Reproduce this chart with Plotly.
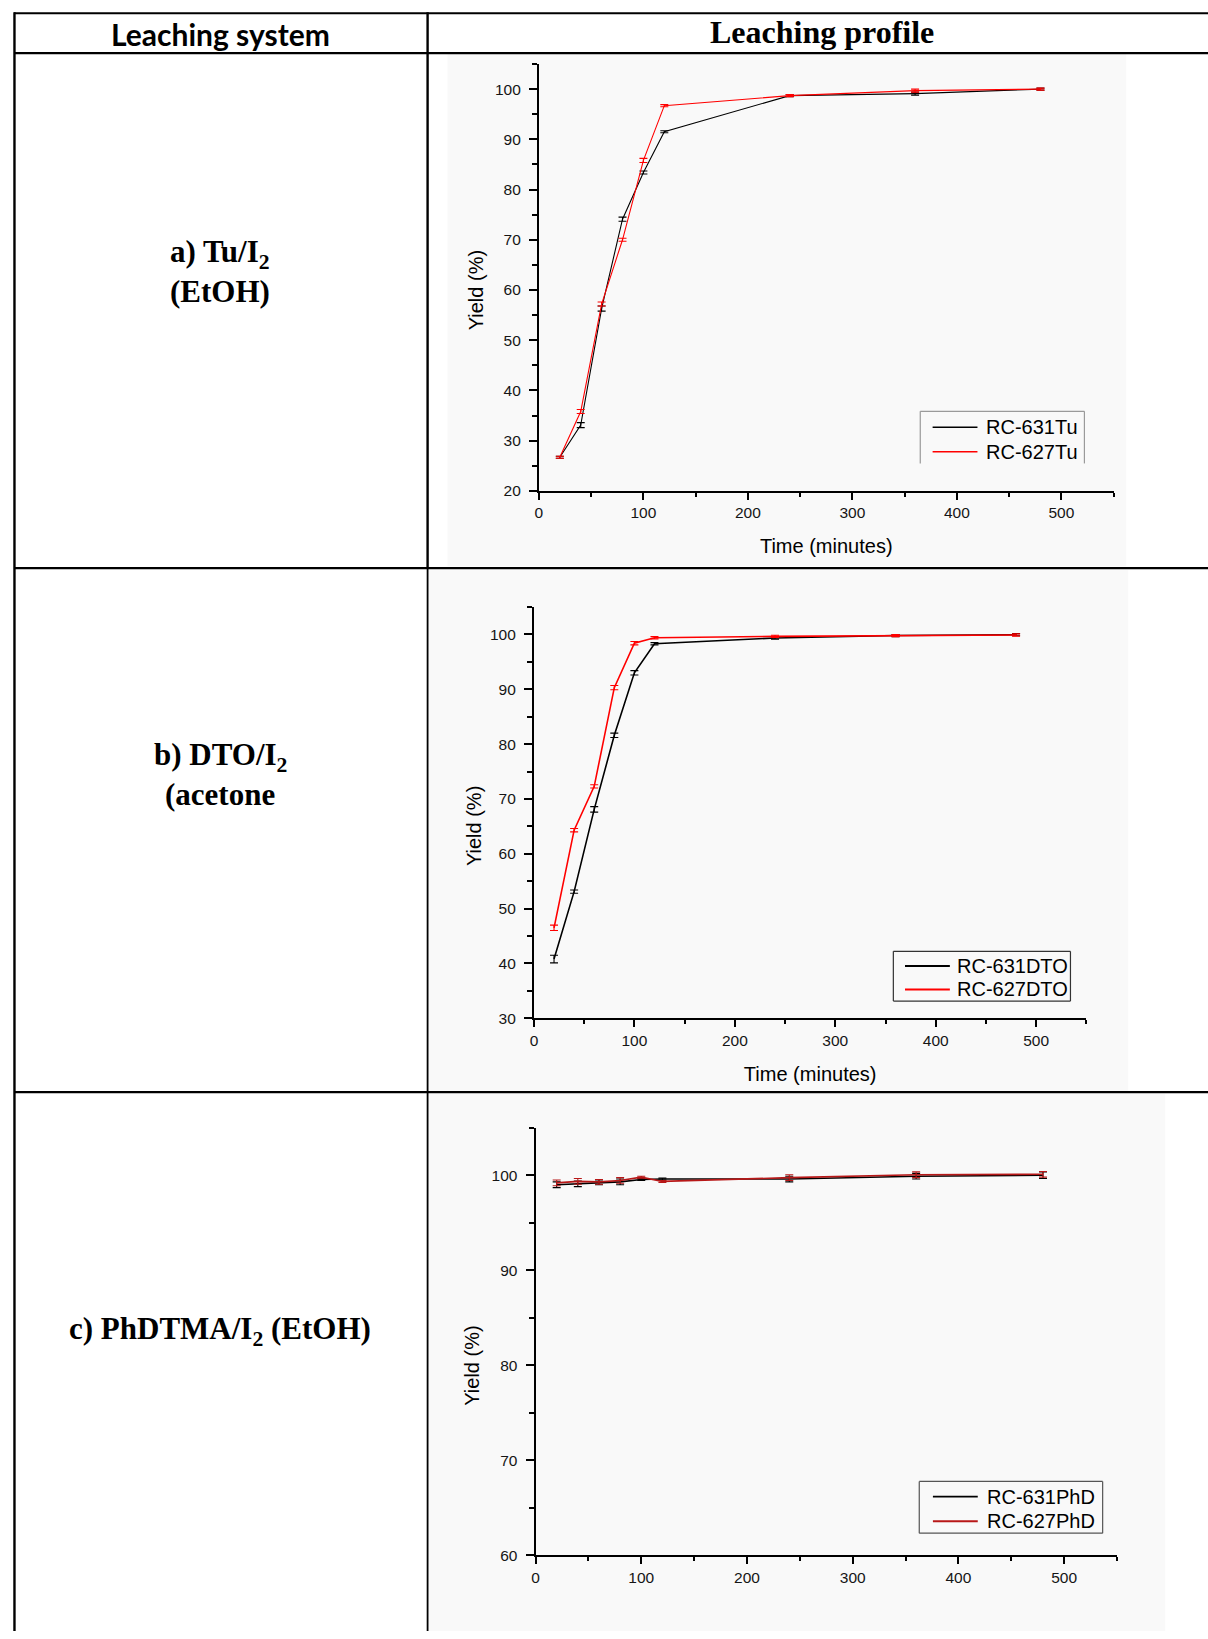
import plotly.graph_objects as go

W, H = 1208, 1639

# ---------------- data ----------------
time_min = [20, 40, 60, 80, 100, 120, 240, 360, 480]

# a) Tu/I2 (EtOH)
tu_631 = [26.7, 33.1, 56.3, 74.1, 83.4, 91.5, 98.7, 99.1, 100.0]
tu_631_err = [0.2, 0.5, 0.5, 0.4, 0.3, 0.2, 0.2, 0.3, 0.2]
tu_627 = [26.7, 35.8, 57.2, 70.0, 85.8, 96.7, 98.7, 99.7, 100.0]
tu_627_err = [0.2, 0.4, 0.4, 0.3, 0.4, 0.2, 0.2, 0.3, 0.2]

# b) DTO/I2 (acetone)
dto_631 = [40.8, 53.1, 68.1, 81.6, 93.0, 98.3, 99.35, 99.8, 99.95]
dto_631_err = [0.7, 0.3, 0.5, 0.4, 0.4, 0.2, 0.2, 0.2, 0.2]
dto_627 = [46.5, 64.3, 72.3, 90.3, 98.4, 99.4, 99.65, 99.8, 99.9]
dto_627_err = [0.5, 0.3, 0.3, 0.4, 0.3, 0.2, 0.2, 0.2, 0.2]

# c) PhDTMA/I2 (EtOH)
phd_631 = [99.0, 99.1, 99.25, 99.3, 99.55, 99.6, 99.6, 99.9, 100.0]
phd_631_err = [0.3, 0.3, 0.25, 0.3, 0.1, 0.1, 0.3, 0.3, 0.35]
phd_627 = [99.2, 99.35, 99.3, 99.45, 99.8, 99.35, 99.75, 100.05, 100.1]
phd_627_err = [0.3, 0.3, 0.25, 0.3, 0.1, 0.1, 0.3, 0.3, 0.3]

header_left = "Leaching system"
header_right = "Leaching profile"
row_labels = [
    ["a) Tu/I<sub>2</sub>", "(EtOH)"],
    ["b) DTO/I<sub>2</sub>", "(acetone"],
    ["c) PhDTMA/I<sub>2</sub> (EtOH)"],
]
x_title = "Time (minutes)"
y_title = "Yield (%)"


# ---------------- helpers (pixel -> paper) ----------------
def fx(p):
    return p / W


def fy(p):
    return 1 - p / H


SANS = "Arial, Liberation Sans, sans-serif"
SERIF = "Times New Roman, Liberation Serif, serif"

fig = go.Figure()

panels = [
    dict(ax="", series=[("RC-631Tu", tu_631, tu_631_err, "#000000"),
                        ("RC-627Tu", tu_627, tu_627_err, "#ff0000")],
         lw=1.1, xpx=(536.7, 1113.3), ypx=(493.3, 64.3), yr=(20, 105),
         xtitle=True, ytitle_px=(473, 291.3),
         legend=dict(box=(919.3, 413.3, 1084.0, 465.7), bottom=False,
                     border="#9a9a9a", sample=(931.7, 976.7), text_x=983.3,
                     rows=(429.3, 454.0))),
    dict(ax="2", series=[("RC-631DTO", dto_631, dto_631_err, "#000000"),
                         ("RC-627DTO", dto_627, dto_627_err, "#ff0000")],
         lw=1.6, xpx=(531.7, 1086.0), ypx=(1023.3, 610.0), yr=(30, 105),
         xtitle=True, ytitle_px=(471.7, 830.0),
         legend=dict(box=(892.3, 956.0, 1070.0, 1006.0), bottom=True,
                     border="#333333", sample=(904.0, 949.0), text_x=954.0,
                     rows=(970.7, 994.3))),
    dict(ax="3", series=[("RC-631PhD", phd_631, phd_631_err, "#000000"),
                         ("RC-627PhD", phd_627, phd_627_err, "#b81818")],
         lw=1.6, xpx=(533.3, 1116.7), ypx=(1562.7, 1133.3), yr=(60, 105),
         xtitle=False, ytitle_px=(470, 1372.0),
         legend=dict(box=(918.3, 1488.7, 1102.3, 1540.7), bottom=True,
                     border="#555555", sample=(932.0, 977.0), text_x=984.0,
                     rows=(1504.0, 1528.7))),
]

# faint backgrounds of the three plot panels
panel_bg = [(445, 54, 1126, 569), (426, 573, 1128, 1096), (426, 1099, 1165, 1639)]
shapes = []
for x0, y0, x1, y1 in panel_bg:
    shapes.append(dict(type="rect", xref="paper", yref="paper",
                       x0=fx(x0), x1=fx(x1), y0=fy(y1), y1=fy(y0),
                       fillcolor="#f9f9f9", line=dict(width=0), layer="below"))


def hline_px(x0, y0, x1, y1, color, width):
    return dict(type="line", xref="paper", yref="paper",
                x0=fx(x0), x1=fx(x1), y0=fy(y0), y1=fy(y1),
                line=dict(color=color, width=width), layer="above")


# table rules
table_lines = [
    # horizontal rules
    (10, 13.3, W, 13.3, 2.2),
    (10, 53.3, W, 53.3, 2.2),
    (10, 571.0, W, 571.0, 2.2),
    (10, 1097.5, W, 1097.5, 2.2),
    # vertical rules
    (10.5, 12.2, 10.5, H, 2.4),
    (425.0, 12.2, 425.0, 571.0, 2.4),
    (425.0, 571.0, 425.0, H, 1.8),
]
for x0, y0, x1, y1, w in table_lines:
    shapes.append(hline_px(x0, y0, x1, y1, "black", w))

annotations = [
    dict(text="<b>" + header_left + "</b>", x=fx(217), y=fy(34),
         font=dict(family="Lato, Open Sans, sans-serif", size=30, color="black")),
    dict(text="<b>" + header_right + "</b>", x=fx(821), y=fy(32.5),
         font=dict(family=SERIF, size=32, color="black")),
]
label_rows_px = [[255, 292.6], [761, 798], [1337.5]]
for lines, ys in zip(row_labels, label_rows_px):
    for txt, yp in zip(lines, ys):
        annotations.append(dict(text="<b>" + txt + "</b>", x=fx(217), y=fy(yp),
                                font=dict(family=SERIF, size=31, color="black")))

layout = dict(
    width=W, height=H,
    margin=dict(l=0, r=0, t=0, b=0, pad=0),
    paper_bgcolor="white",
    plot_bgcolor="rgba(0,0,0,0)",
    showlegend=False,
)

for p in panels:
    ax = p["ax"]
    xname = "x" + ax
    yname = "y" + ax
    for name, vals, err, col in p["series"]:
        fig.add_trace(go.Scatter(
            x=time_min, y=vals, name=name, mode="lines",
            line=dict(color=col, width=p["lw"]),
            error_y=dict(type="data", array=err, visible=True,
                         color=col, thickness=1.1, width=4),
            xaxis=xname, yaxis=yname,
        ))

    axis_common = dict(
        showline=True, linecolor="black", linewidth=2,
        ticks="outside", tickcolor="black", tickwidth=1.5,
        showgrid=False, zeroline=False, mirror=False,
        tickfont=dict(family=SANS, size=15.5, color="#151515"),
    )
    xa = dict(
        axis_common,
        domain=[fx(p["xpx"][0]), fx(p["xpx"][1])],
        anchor=yname, range=[0, 550], tick0=0, dtick=100, ticklen=7,
        minor=dict(dtick=50, ticklen=4, tickwidth=1.5, tickcolor="black", ticks="outside"),
    )
    if p["xtitle"]:
        xa["title"] = dict(text=x_title, font=dict(family=SANS, size=20, color="black"),
                           standoff=19)
    layout["xaxis" + ax] = xa
    layout["yaxis" + ax] = dict(
        axis_common,
        domain=[fy(p["ypx"][0]), fy(p["ypx"][1])],
        anchor=xname, range=list(p["yr"]), tick0=0, dtick=10, ticklen=8,
        ticklabelstandoff=5,
        minor=dict(dtick=5, ticklen=5, tickwidth=1.5, tickcolor="black", ticks="outside"),
    )

    # legend box, samples and entry names
    lg = p["legend"]
    bx0, by0, bx1, by1 = lg["box"]
    shapes.append(hline_px(bx0, by0, bx1, by0, lg["border"], 1.2))
    shapes.append(hline_px(bx0, by0, bx0, by1, lg["border"], 1.2))
    shapes.append(hline_px(bx1, by0, bx1, by1, lg["border"], 1.2))
    if lg["bottom"]:
        shapes.append(hline_px(bx0, by1, bx1, by1, lg["border"], 1.2))
    for (name, _, _, col), ry in zip(p["series"], lg["rows"]):
        shapes.append(hline_px(lg["sample"][0], ry, lg["sample"][1], ry, col, p["lw"] + 0.3))
        annotations.append(dict(text=name, x=fx(lg["text_x"]), y=fy(ry), xanchor="left",
                                font=dict(family=SANS, size=20, color="black")))

    tx, ty = p["ytitle_px"]
    annotations.append(dict(text=y_title, x=fx(tx), y=fy(ty), textangle=-90,
                            font=dict(family=SANS, size=20, color="black")))

for a in annotations:
    a.setdefault("xanchor", "center")
    a.update(xref="paper", yref="paper", showarrow=False, yanchor="middle")

layout["shapes"] = shapes
layout["annotations"] = annotations
fig.update_layout(**layout)

fig.write_html("out.html")
